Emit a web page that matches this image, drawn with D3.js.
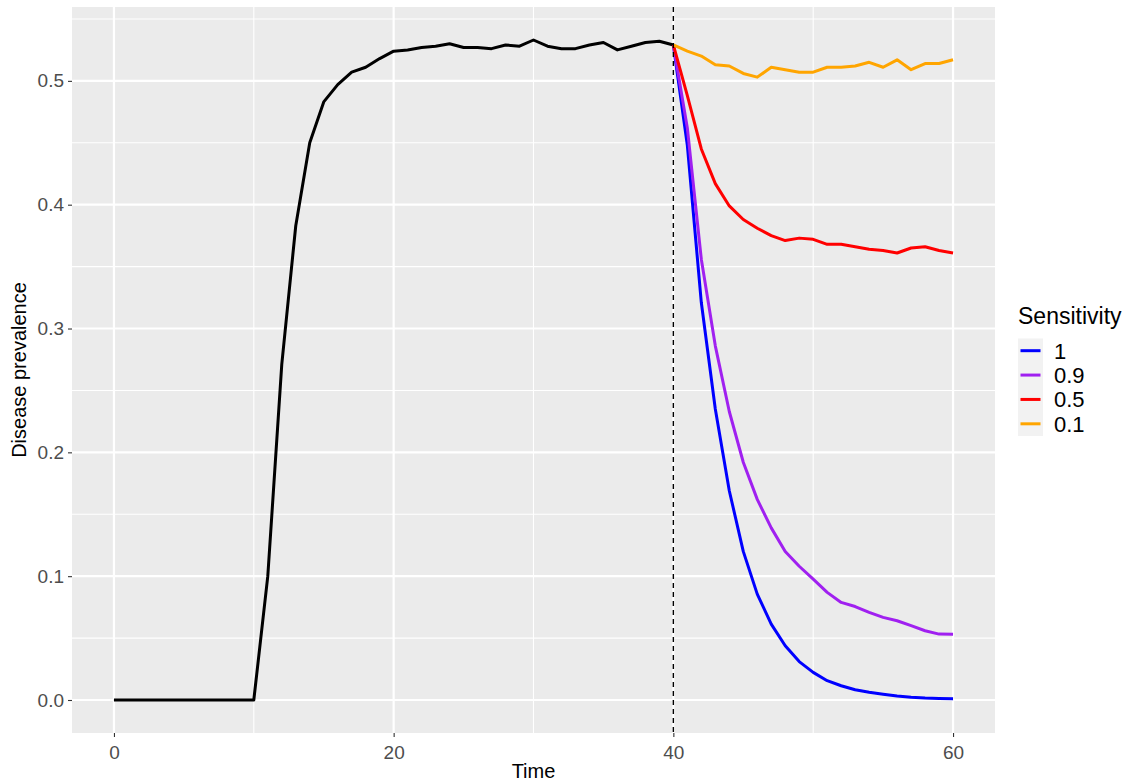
<!DOCTYPE html>
<html>
<head>
<meta charset="utf-8">
<script src="https://cdn.jsdelivr.net/npm/d3@7"></script>
<style>
  html, body { margin: 0; padding: 0; background: #ffffff; }
  svg { display: block; font-family: "Liberation Sans", Arial, sans-serif; }
</style>
</head>
<body>
<svg id="chart" width="1134" height="784"></svg>
<script>
// Prevalence before the intervention (t = 0..40)
const baselineTime = d3.range(0, 41);
const baselinePrev = [0, 0, 0, 0, 0, 0, 0, 0, 0, 0, 0,
  0.100, 0.271, 0.383, 0.450, 0.483, 0.497, 0.507, 0.511, 0.518, 0.524,
  0.525, 0.527, 0.528, 0.530, 0.527, 0.527, 0.526, 0.529, 0.528, 0.533,
  0.528, 0.526, 0.526, 0.529, 0.531, 0.525, 0.528, 0.531, 0.532, 0.529];

// Prevalence after testing starts (t = 40..60), one series per test sensitivity
const testTime = d3.range(40, 61);
const sensitivities = ["1", "0.9", "0.5", "0.1"];
const sensColors = ["#0000FF", "#A020F0", "#FF0000", "#FFA500"];
const prevSens1 = [0.529, 0.448, 0.321, 0.235, 0.169, 0.120, 0.0855, 0.0613, 0.0438, 0.031,
  0.0223, 0.0156, 0.0115, 0.0083, 0.0062, 0.0046, 0.0032, 0.0022, 0.0016, 0.0013, 0.001];
const prevSens09 = [0.529, 0.462, 0.356, 0.286, 0.233, 0.192, 0.162, 0.139, 0.120, 0.108,
  0.0976, 0.0869, 0.0788, 0.0755, 0.0707, 0.0667, 0.064, 0.060, 0.0559, 0.0532, 0.053];
const prevSens05 = [0.529, 0.488, 0.445, 0.417, 0.399, 0.388, 0.381, 0.375, 0.371, 0.373,
  0.372, 0.368, 0.368, 0.366, 0.364, 0.363, 0.361, 0.365, 0.366, 0.363, 0.361];
const prevSens01 = [0.529, 0.524, 0.520, 0.513, 0.512, 0.506, 0.503, 0.511, 0.509, 0.507,
  0.507, 0.511, 0.511, 0.512, 0.515, 0.511, 0.517, 0.509, 0.514, 0.514, 0.517];
const sensSeries = [prevSens1, prevSens09, prevSens05, prevSens01];

const interventionTime = 40;
const xTicks = [0, 20, 40, 60];
const xMinor = [10, 30, 50];
const yTicks = [0.0, 0.1, 0.2, 0.3, 0.4, 0.5];
const yMinor = [0.05, 0.15, 0.25, 0.35, 0.45, 0.55];

const svg = d3.select("#chart");
const panel = { left: 72, right: 995, top: 7, bottom: 733 };

// 5% padding on both scales, like the usual ggplot expansion
const allY = baselinePrev.concat(...sensSeries);
const yMin = d3.min(allY), yMax = d3.max(allY);
const yPad = (yMax - yMin) * 0.05;
const x = d3.scaleLinear().domain([-3, 63]).range([panel.left, panel.right]);
const y = d3.scaleLinear().domain([yMin - yPad, yMax + yPad]).range([panel.bottom, panel.top]);

// panel background
svg.append("rect")
  .attr("x", panel.left).attr("y", panel.top)
  .attr("width", panel.right - panel.left).attr("height", panel.bottom - panel.top)
  .attr("fill", "#EBEBEB");

const grid = svg.append("g");
grid.selectAll(".ymin").data(yMinor).join("line")
  .attr("x1", panel.left).attr("x2", panel.right)
  .attr("y1", d => y(d)).attr("y2", d => y(d))
  .attr("stroke", "#ffffff").attr("stroke-width", 1.1);
grid.selectAll(".xmin").data(xMinor).join("line")
  .attr("y1", panel.top).attr("y2", panel.bottom)
  .attr("x1", d => x(d)).attr("x2", d => x(d))
  .attr("stroke", "#ffffff").attr("stroke-width", 1.1);
grid.selectAll(".ymaj").data(yTicks).join("line")
  .attr("x1", panel.left).attr("x2", panel.right)
  .attr("y1", d => y(d)).attr("y2", d => y(d))
  .attr("stroke", "#ffffff").attr("stroke-width", 2.2);
grid.selectAll(".xmaj").data(xTicks).join("line")
  .attr("y1", panel.top).attr("y2", panel.bottom)
  .attr("x1", d => x(d)).attr("x2", d => x(d))
  .attr("stroke", "#ffffff").attr("stroke-width", 2.2);

// axes
const xAxis = svg.append("g")
  .attr("transform", `translate(0,${panel.bottom})`)
  .call(d3.axisBottom(x).tickValues(xTicks).tickFormat(d3.format("d")).tickSize(4).tickPadding(4));
const yAxis = svg.append("g")
  .attr("transform", `translate(${panel.left},0)`)
  .call(d3.axisLeft(y).tickValues(yTicks).tickFormat(d3.format(".1f")).tickSize(4).tickPadding(4));
[xAxis, yAxis].forEach(g => {
  g.select(".domain").remove();
  g.selectAll(".tick line").attr("stroke", "#333333").attr("stroke-width", 1.1);
  g.selectAll(".tick text").attr("fill", "#4D4D4D")
    .style("font-size", "19px").style("font-family", "Liberation Sans, Arial, sans-serif");
});
xAxis.selectAll(".tick text").attr("dy", "0.93em");

// axis titles
svg.append("text")
  .attr("x", (panel.left + panel.right) / 2).attr("y", 778)
  .attr("text-anchor", "middle").attr("fill", "#000")
  .style("font-size", "20px").text("Time");
svg.append("text")
  .attr("transform", `translate(26,${(panel.top + panel.bottom) / 2}) rotate(-90)`)
  .attr("text-anchor", "middle").attr("fill", "#000")
  .style("font-size", "20px").text("Disease prevalence");

const line = d3.line().x(d => x(d[0])).y(d => y(d[1]));
const plot = svg.append("g");

// pre-intervention curve
plot.append("path")
  .datum(d3.zip(baselineTime, baselinePrev))
  .attr("d", line).attr("fill", "none")
  .attr("stroke", "#000000").attr("stroke-width", 3).attr("stroke-linejoin", "round");

// post-intervention curves
plot.selectAll(".sens").data(sensSeries).join("path")
  .attr("d", s => line(d3.zip(testTime, s)))
  .attr("fill", "none")
  .attr("stroke", (s, i) => sensColors[i])
  .attr("stroke-width", 3).attr("stroke-linejoin", "round");

// intervention start marker
plot.append("line")
  .attr("x1", x(interventionTime)).attr("x2", x(interventionTime))
  .attr("y1", panel.top).attr("y2", panel.bottom)
  .attr("stroke", "#000").attr("stroke-width", 1.4).attr("stroke-dasharray", "5,4");

// legend
const lg = svg.append("g").attr("transform", "translate(1018,0)");
lg.append("text").attr("x", 0).attr("y", 324)
  .attr("fill", "#000").style("font-size", "23px").text("Sensitivity");
const keyY = d3.scaleBand().domain(sensitivities).range([338.5, 436]);
lg.append("rect").attr("x", 0).attr("y", 338.5).attr("width", 25).attr("height", 97.5)
  .attr("fill", "#F2F2F2");
const items = lg.selectAll(".item").data(sensitivities).join("g")
  .attr("transform", d => `translate(0,${keyY(d) + keyY.bandwidth() / 2})`);
items.append("line").attr("x1", 2.5).attr("x2", 22.5)
  .attr("stroke", (d, i) => sensColors[i]).attr("stroke-width", 3);
items.append("text").attr("x", 36).attr("dy", "0.36em")
  .attr("fill", "#000").style("font-size", "22px").text(d => d);
</script>
</body>
</html>
